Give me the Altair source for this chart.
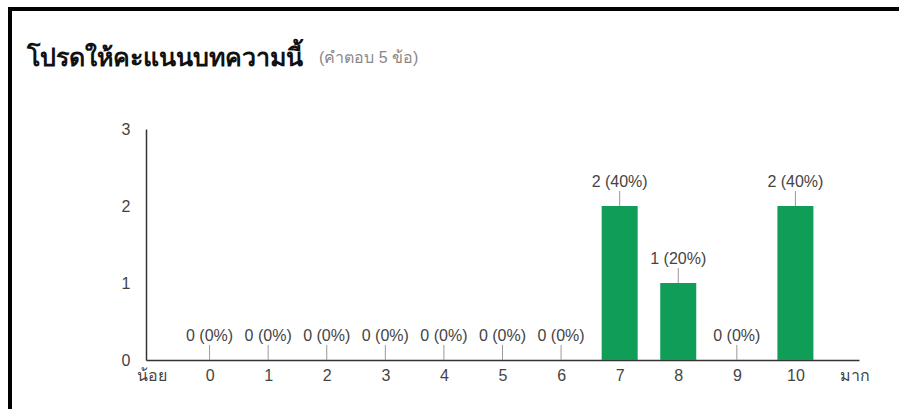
import altair as alt
import pandas as pd

title_text = "โปรดให้คะแนนบทความนี้"
subtitle_text = "(คำตอบ 5 ข้อ)"
scores = [0, 1, 2, 3, 4, 5, 6, 7, 8, 9, 10]
counts = [0, 0, 0, 0, 0, 0, 0, 2, 1, 0, 2]
total = 5
low_label = "น้อย"
high_label = "มาก"

df = pd.DataFrame({"score": scores, "count": counts})
df["label"] = [f"{c} ({round(c * 100 / total)}%)" for c in counts]

FONT = "Liberation Sans"
W, H = 713, 231
PL, PT = 146, 129

xscale = alt.Scale(domain=[-1, 11], nice=False, zero=False)
yscale = alt.Scale(domain=[0, 3], nice=False)

base = alt.Chart(df)

bars = base.mark_bar(size=36, color="#0f9d58").encode(
    x=alt.X("score:Q", scale=xscale,
            axis=alt.Axis(values=list(range(-1, 12)), title=None, grid=False, ticks=False, format="d",
                          labelExpr=f"datum.value == -1 ? '{low_label}' : datum.value == 11 ? '{high_label}' : datum.label",
                          labelFont=FONT, labelFontSize=16, labelColor="#444", labelPadding=7,
                          domainColor="#333", domainWidth=1.5, labelFlush=False, labelOverlap=False)),
    y=alt.Y("count:Q", scale=yscale,
            axis=alt.Axis(values=[0, 1, 2, 3], title=None, grid=False, ticks=False, format="d",
                          labelFont=FONT, labelFontSize=16, labelColor="#444", labelPadding=16,
                          domainColor="#333", domainWidth=1.5)),
)

leaders = base.mark_rule(color="#999", strokeWidth=1, y2Offset=-15).encode(
    x="score:Q", y="count:Q", y2="count:Q"
)

labels = base.mark_text(font=FONT, fontSize=16, color="#444", dy=-24, baseline="middle").encode(
    x="score:Q", y="count:Q", text="label:N"
)

tdf = pd.DataFrame({"t": [title_text], "s": [subtitle_text]})
title = alt.Chart(tdf).mark_text(font="Tahoma", fontSize=25, fontWeight="bold", color="#111",
                                 align="left", baseline="alphabetic").encode(
    text="t:N", x=alt.value(27 - PL), y=alt.value(66 - PT))
subtitle = alt.Chart(tdf).mark_text(font=FONT, fontSize=16, color="#888", align="left",
                                    baseline="alphabetic").encode(
    text="s:N", x=alt.value(319 - PL), y=alt.value(63 - PT))

frame_top = alt.Chart(tdf).mark_rule(color="#000", strokeWidth=4).encode(
    x=alt.value(8 - PL), x2=alt.value(899 - PL + 10), y=alt.value(9 - PT))
frame_left = alt.Chart(tdf).mark_rule(color="#000", strokeWidth=4).encode(
    x=alt.value(10 - PL), y=alt.value(7 - PT), y2=alt.value(409 - PT + 10))

chart = alt.layer(bars, leaders, labels, title, subtitle, frame_top, frame_left).properties(
    width=W, height=H,
    autosize=alt.AutoSizeParams(type="none"),
    padding={"left": PL, "top": PT, "right": 899 - PL - W, "bottom": 409 - PT - H},
    background="white",
).configure_view(stroke=None)

chart.save("out.html", embed_options={"renderer": "svg", "actions": False})
